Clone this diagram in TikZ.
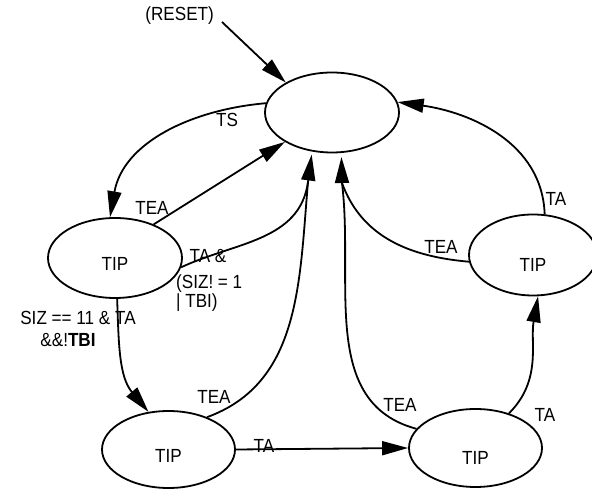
\documentclass[tikz,border=0pt]{standalone}
\usepackage{fontspec}
\setmainfont{Liberation Sans}[FakeStretch=0.9]
\usetikzlibrary{arrows.meta,shapes.geometric}
\begin{document}
\begin{tikzpicture}[x=1pt,y=1pt,
  st/.style={ellipse, draw, line width=1.8pt, inner sep=0pt, minimum width=134pt, minimum height=80pt},
  lbl/.style={font=\fontsize{19}{21}\selectfont, inner sep=0pt},
  arr/.style={line width=1.8pt, -{Triangle[length=26pt,width=14pt]}},
  ln/.style={line width=1.8pt}]
\useasboundingbox (0,0) rectangle (592,490);
% states
\node[st] (top) at (332,377.5) {};
\node[st] (tipL) at (115,232) {};
\node[st, minimum width=133pt, minimum height=77pt] (tipBL) at (168.5,40.5) {};
\node[st, minimum width=133pt, minimum height=78pt] (tipBR) at (475.5,42) {};
\node[st, minimum width=128pt, minimum height=81pt] (tipR) at (533,235) {};
\node[lbl] (tipLt) at ([yshift=-6pt]tipL.center) {TIP};
\node[lbl] (tipBLt) at ([yshift=-6pt]tipBL.center) {TIP};
\node[lbl] (tipBRt) at ([yshift=-10pt]tipBR.center) {TIP};
\node[lbl] (tipRt) at ([yshift=-10pt]tipR.center) {TIP};
% reset
\node[lbl, anchor=east] (reset) at (214,474) {(RESET)};
\draw[arr] ([shift={(8,-6)}]reset.east) -- (top.147);
% edges
\draw[arr] (top.172) to[out=185,in=80] (tipL.97);
\draw[arr] (tipL.41) -- (top.212);
\coordinate (m1) at (308,308);
\coordinate (m2) at (342,307);
\draw[arr, shorten >=3pt] (m1) -- (top.243);
\draw[arr, shorten >=4pt] (m2) -- (top.283);
\draw[ln] (tipL.352) to[out=25,in=-98] (m1);
\draw[ln] (tipBL.40) to[out=20,in=-95] (m1);
\draw[ln] (tipBR.162) to[out=165,in=-83] (m2);
\draw[ln] (tipR.186) to[out=175,in=-70] (m2);
\draw[arr] (tipR.74) to[out=92,in=-8] (top.9);
\draw[arr] (tipBR.46) to[out=45,in=-100] (tipR.277);
\draw[arr] (tipBL.east) -- (tipBR.west);
\draw[arr] (tipL.273) to[out=-88,in=130] (tipBL.118);
% labels
\node[lbl] (lTS) at (227,370) {TS};
\node[lbl] (lTEA1) at (152,282) {TEA};
\node[lbl] (lTA1) at (208,234) {TA \&};
\node[lbl, anchor=west] (lSIZ1) at (176,206) {(SIZ! = 1};
\node[lbl, anchor=west] (lSIZ2) at (176,187) {| TBI)};
\node[lbl] (lSIZ3) at (78,172) {SIZ == 11 \& TA};
\node[lbl] (lSIZ4) at (68,150) {\&\&!\textbf{TBI}};
\node[lbl] (lTEA2) at (214,93) {TEA};
\node[lbl] (lTA2) at (264,44) {TA};
\node[lbl] (lTEA3) at (400,85) {TEA};
\node[lbl] (lTA3) at (545,75) {TA};
\node[lbl] (lTEA4) at (441,243) {TEA};
\node[lbl] (lTA4) at (556,291) {TA};
\end{tikzpicture}
\end{document}
